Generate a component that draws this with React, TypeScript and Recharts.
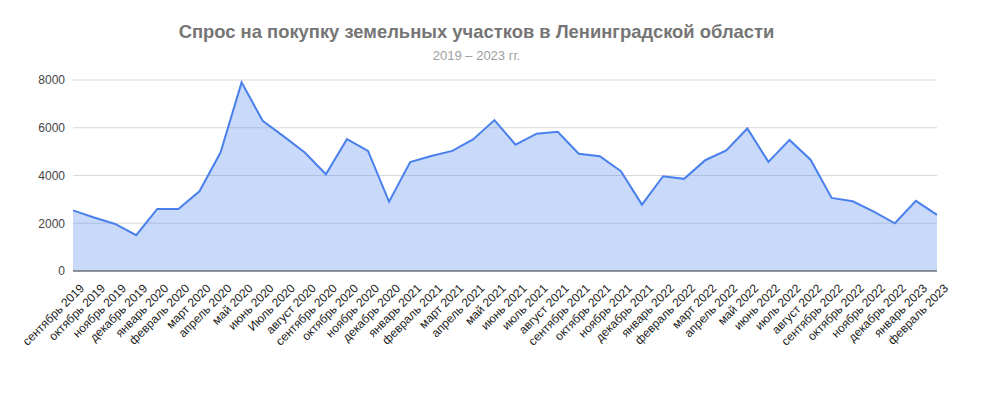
import React from 'react'
import { AreaChart, Area, XAxis, YAxis, CartesianGrid } from 'recharts'

const MONTHS = [
  'сентябрь 2019', 'октябрь 2019', 'ноябрь 2019', 'декабрь 2019',
  'январь 2020', 'февраль 2020', 'март 2020', 'апрель 2020', 'май 2020', 'июнь 2020',
  'Июль 2020', 'август 2020', 'сентябрь 2020', 'октябрь 2020', 'ноябрь 2020', 'декабрь 2020',
  'январь 2021', 'февраль 2021', 'март 2021', 'апрель 2021', 'май 2021', 'июнь 2021',
  'июль 2021', 'август 2021', 'сентябрь 2021', 'октябрь 2021', 'ноябрь 2021', 'декабрь 2021',
  'январь 2022', 'февраль 2022', 'март 2022', 'апрель 2022', 'май 2022', 'июнь 2022',
  'июль 2022', 'август 2022', 'сентябрь 2022', 'октябрь 2022', 'ноябрь 2022', 'декабрь 2022',
  'январь 2023', 'февраль 2023',
]

const DEMAND = [
  2540, 2240, 1970, 1500,
  2600, 2600, 3340, 4960, 7900, 6290,
  5640, 4960, 4050, 5520, 5030, 2900,
  4560, 4820, 5030, 5520, 6320, 5290,
  5750, 5830, 4910, 4810, 4180, 2780,
  3970, 3860, 4640, 5050, 5970, 4570,
  5490, 4660, 3060, 2920, 2490, 2000,
  2940, 2350,
]

const Y_TICKS = [0, 2000, 4000, 6000, 8000]

const data = MONTHS.map((m, i) => ({ month: m, value: DEMAND[i] }))

const FONT = '"Liberation Sans", Arial, sans-serif'

function MonthTick(props: any) {
  const { x, y, payload } = props
  return (
    <g transform={`translate(${x + 6},${y + 4})`}>
      <text
        x={0}
        y={0}
        dy="0.7em"
        textAnchor="end"
        transform="rotate(-45)"
        fontSize={12}
        fontFamily={FONT}
        fill="#222"
      >
        {payload.value}
      </text>
    </g>
  )
}

export default function App() {
  return (
    <div style={{ position: 'absolute', left: 0, top: 0, width: 1000, height: 405, background: '#fff', fontFamily: FONT }}>
      <div
        style={{
          position: 'absolute',
          left: 0,
          width: 953,
          top: 21,
          textAlign: 'center',
          fontSize: 18.4,
          fontWeight: 'bold',
          color: '#757575',
        }}
      >
        Спрос на покупку земельных участков в Ленинградской области
      </div>
      <div
        style={{
          position: 'absolute',
          left: 0,
          width: 953,
          top: 48,
          textAlign: 'center',
          fontSize: 13,
          color: '#9e9e9e',
        }}
      >
        2019 – 2023 гг.
      </div>
      <AreaChart
        width={1000}
        height={405}
        data={data}
        margin={{ top: 80, right: 63, left: 0, bottom: 0 }}
      >
        <CartesianGrid vertical={false} stroke="#d9d9d9" />
        <XAxis
          dataKey="month"
          interval={0}
          height={134}
          tick={<MonthTick />}
          tickLine={false}
          axisLine={{ stroke: '#444' }}
        />
        <YAxis
          width={73}
          domain={[0, 8000]}
          ticks={Y_TICKS}
          tickLine={false}
          axisLine={false}
          tick={{ fontSize: 12, fill: '#444', fontFamily: FONT }}
        />
        <Area
          type="linear"
          dataKey="value"
          stroke="#4a80ec"
          strokeWidth={2}
          fill="#4a80ec"
          fillOpacity={0.3}
          dot={false}
          activeDot={false}
          isAnimationActive={false}
        />
      </AreaChart>
    </div>
  )
}
